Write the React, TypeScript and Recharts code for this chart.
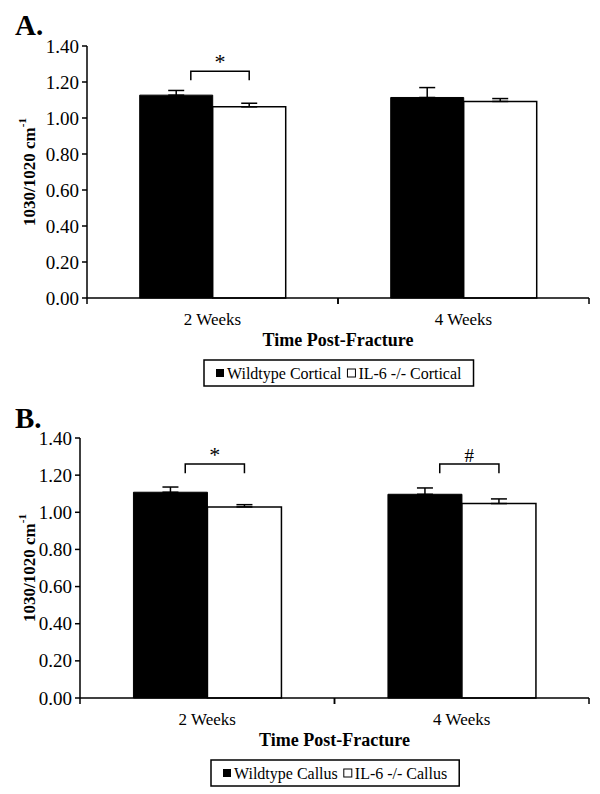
import { useLayoutEffect, useRef, useState } from 'react';
import { BarChart, Bar, XAxis, YAxis, ErrorBar, LabelList } from 'recharts';

const weeks = ['2 Weeks', '4 Weeks'];
const yTicks = [0, 0.2, 0.4, 0.6, 0.8, 1.0, 1.2, 1.4];

// A. cortical bone
const wtCortical = [1.127, 1.114];
const wtCorticalErr = [0.026, 0.055];
const koCortical = [1.062, 1.092];
const koCorticalErr = [0.02, 0.016];
const sigCortical = ['*', ''];

// B. callus
const wtCallus = [1.108, 1.097];
const wtCallusErr = [0.028, 0.034];
const koCallus = [1.029, 1.047];
const koCallusErr = [0.012, 0.025];
const sigCallus = ['*', '#'];

// bracket height above the bars, in axis units
const bracketLevel = 1.26;
const bracketDrop = 0.05;

const serif = '"Liberation Serif", serif';
const txt = (size: number, bold = false) => ({ fontFamily: serif, fontSize: size, fontWeight: bold ? 'bold' : 'normal' });

const makeRows = (wt: number[], wtErr: number[], ko: number[], koErr: number[]) =>
  weeks.map((week, i) => ({
    week,
    wt: wt[i],
    wtErr: [0, wtErr[i]],
    ko: ko[i],
    koErr: [0, koErr[i]],
  }));

const WeekTick = (props: any) => {
  const { x, y, payload } = props;
  const half = payload?.offset ?? 0;
  return (
    <g>
      <line x1={x - half} x2={x - half} y1={y} y2={y + 6} stroke="#000" strokeWidth={1.5} />
      <line x1={x + half} x2={x + half} y1={y} y2={y + 6} stroke="#000" strokeWidth={1.5} />
      <text x={x} y={y + 27} textAnchor="middle" style={txt(17)} fill="#000">
        {payload.value}
      </text>
      {props.index === 0 && (
        <text x={x + half} y={y + 48} textAnchor="middle" style={txt(18, true)} fill="#000">
          Time Post-Fracture
        </text>
      )}
    </g>
  );
};

const ValueTick = (props: any) => {
  const { x, y, payload } = props;
  return (
    <text x={x} y={y} textAnchor="end" dominantBaseline="central" style={txt(19)} fill="#000">
      {Number(payload.value).toFixed(2)}
    </text>
  );
};

const YTitle = (props: any) => {
  const vb = props.viewBox || {};
  const cx = (vb.x ?? 0) + 29;
  const cy = (vb.y ?? 0) + (vb.height ?? 0) / 2;
  return (
    <text
      x={cx}
      y={cy}
      transform={`rotate(-90, ${cx}, ${cy})`}
      textAnchor="middle"
      dominantBaseline="central"
      style={txt(17, true)}
      fill="#000"
    >
      1030/1020 cm
      <tspan style={txt(11, true)} dy={-7}>-1</tspan>
    </text>
  );
};

// significance bracket drawn from the wildtype bar geometry
const makeBracket = (values: number[], signs: string[]) => (props: any) => {
  const vb = props.viewBox || props;
  const { x, y, width, height } = vb;
  const i = props.index;
  const sign = signs[i];
  if (!sign) return null;
  const perUnit = height / values[i];
  const bottom = y + height;
  const yTop = bottom - bracketLevel * perUnit;
  const yEnd = bottom - (bracketLevel - bracketDrop) * perUnit;
  const x1 = x + width * 0.7;
  const x2 = x + width * 1.5;
  return (
    <g>
      <path d={`M${x1},${yEnd} L${x1},${yTop} L${x2},${yTop} L${x2},${yEnd}`} fill="none" stroke="#000" strokeWidth={1.5} />
      <text x={(x1 + x2) / 2} y={yTop - 2} textAnchor="middle" style={txt(sign === '*' ? 22 : 19)} fill="#000">
        {sign}
      </text>
    </g>
  );
};

function LegendBox({ cx, top, names }: { cx: number; top: number; names: string[] }) {
  const r1 = useRef<SVGTextElement>(null);
  const r2 = useRef<SVGTextElement>(null);
  const [w, setW] = useState([110, 100]);
  useLayoutEffect(() => {
    if (r1.current && r2.current) {
      setW([r1.current.getComputedTextLength(), r2.current.getComputedTextLength()]);
    }
  }, []);
  const pad = 12;
  const sq = 8;
  const gap = 3;
  const sep = 6;
  const h = 26;
  const total = pad + sq + gap + w[0] + sep + sq + gap + w[1] + pad;
  const left = cx - total / 2;
  const x2 = pad + sq + gap + w[0] + sep;
  return (
    <svg style={{ position: 'absolute', left, top }} width={total + 2} height={h + 2}>
      <rect x={1} y={1} width={total} height={h} fill="#fff" stroke="#000" strokeWidth={1.5} />
      <rect x={1 + pad} y={1 + h / 2 - sq / 2} width={sq} height={sq} fill="#000" />
      <text ref={r1} x={1 + pad + sq + gap} y={1 + h / 2} dominantBaseline="central" style={txt(16)} fill="#000">
        {names[0]}
      </text>
      <rect x={1 + x2} y={1 + h / 2 - sq / 2} width={sq} height={sq} fill="#fff" stroke="#000" strokeWidth={1} />
      <text ref={r2} x={1 + x2 + sq + gap} y={1 + h / 2} dominantBaseline="central" style={txt(16)} fill="#000">
        {names[1]}
      </text>
    </svg>
  );
}

type PanelProps = {
  letter: string;
  letterY: number;
  top: number;
  height: number;
  axisWidth: number;
  rows: any[];
  wtValues: number[];
  signs: string[];
  wtName: string;
  koName: string;
};

function Panel({ letter, letterY, top, height, axisWidth, rows, wtValues, signs, wtName, koName }: PanelProps) {
  const width = 600;
  const right = 11;
  const plotCenter = (axisWidth + width - right) / 2;
  const plotBottom = height - 52;
  return (
    <div style={{ position: 'absolute', left: 0, top, width, height: height + 50 }}>
      <svg style={{ position: 'absolute', left: 0, top: 0 }} width={80} height={50}>
        <text x={15} y={letterY} style={txt(29, true)} fill="#000">
          {letter}
        </text>
      </svg>
      <div style={{ position: 'absolute', left: 0, top: 0 }}>
        <BarChart
          width={width}
          height={height}
          data={rows}
          margin={{ top: 46, right, left: 0, bottom: 0 }}
          barCategoryGap="21%"
          barGap={0}
        >
          <XAxis
            dataKey="week"
            height={52}
            tick={<WeekTick />}
            tickLine={false}
            tickSize={0}
            tickMargin={0}
            axisLine={{ stroke: '#000', strokeWidth: 1.5 }}
            interval={0}
          />
          <XAxis xAxisId="top" orientation="top" dataKey="week" height={0} tick={false} tickLine={false} axisLine={{ stroke: '#000', strokeWidth: 1.5 }} />
          <YAxis
            width={axisWidth}
            domain={[0, 1.4]}
            ticks={yTicks}
            interval={0}
            tick={<ValueTick />}
            tickSize={5}
            tickMargin={3}
            tickLine={{ stroke: '#000', strokeWidth: 1.5 }}
            axisLine={{ stroke: '#000', strokeWidth: 1.5 }}
            label={<YTitle />}
          />
          <YAxis yAxisId="right" orientation="right" width={0} domain={[0, 1.4]} tick={false} tickLine={false} axisLine={{ stroke: '#000', strokeWidth: 1.5 }} />
          <Bar dataKey="wt" name={wtName} fill="#000" stroke="#000" strokeWidth={1} isAnimationActive={false}>
            <ErrorBar dataKey="wtErr" width={8} stroke="#000" strokeWidth={1.5} direction="y" />
            <LabelList dataKey="wt" content={makeBracket(wtValues, signs)} />
          </Bar>
          <Bar dataKey="ko" name={koName} fill="#fff" stroke="#000" strokeWidth={1.5} isAnimationActive={false}>
            <ErrorBar dataKey="koErr" width={8} stroke="#000" strokeWidth={1.5} direction="y" />
          </Bar>
        </BarChart>
      </div>
      <LegendBox cx={plotCenter} top={plotBottom + 61} names={[wtName, koName]} />
    </div>
  );
}

export default function App() {
  const rowsA = makeRows(wtCortical, wtCorticalErr, koCortical, koCorticalErr);
  const rowsB = makeRows(wtCallus, wtCallusErr, koCallus, koCallusErr);
  return (
    <div style={{ position: 'absolute', left: 0, top: 0, width: 600, height: 794, background: '#fff' }}>
      <Panel
        letter="A."
        letterY={35}
        top={0}
        height={350}
        axisWidth={87}
        rows={rowsA}
        wtValues={wtCortical}
        signs={sigCortical}
        wtName="Wildtype Cortical"
        koName="IL-6 -/- Cortical"
      />
      <Panel
        letter="B."
        letterY={36}
        top={392}
        height={358}
        axisWidth={80}
        rows={rowsB}
        wtValues={wtCallus}
        signs={sigCallus}
        wtName="Wildtype Callus"
        koName="IL-6 -/- Callus"
      />
    </div>
  );
}
